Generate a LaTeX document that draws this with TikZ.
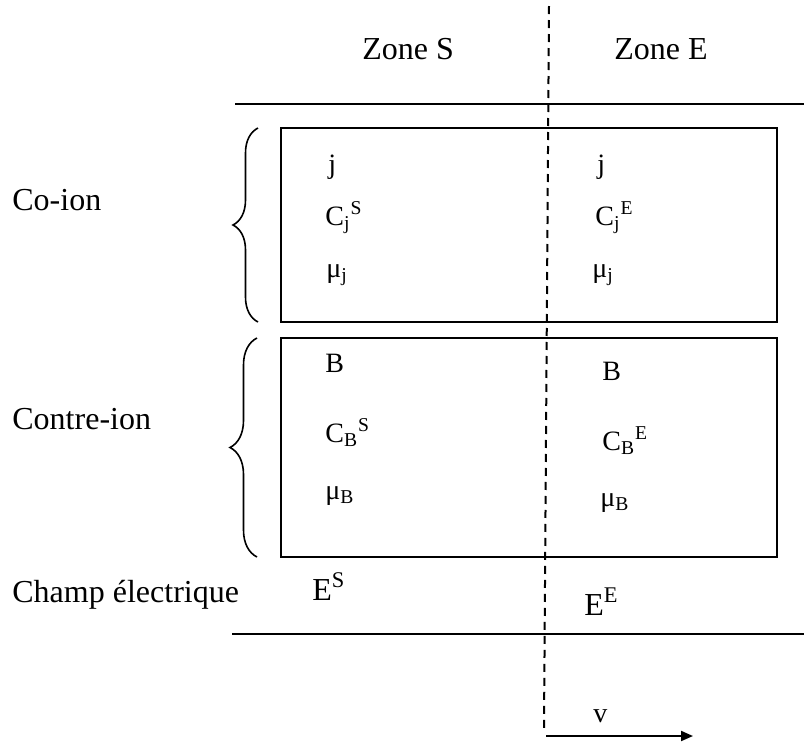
\documentclass[tikz,border=0pt]{standalone}
\usepackage{fontspec}
\setmainfont{Liberation Serif}
\usepackage{tikz}
\usetikzlibrary{arrows.meta, decorations.pathreplacing}

\begin{document}
\begin{tikzpicture}[
    x=0.5pt, y=-0.5pt,
    trait/.style={line width=1pt},
    cadre/.style={draw, line width=1pt},
    accolade/.style={decorate, decoration={brace, amplitude=#1}, line width=0.8pt},
    separation/.style={line width=1pt, dash pattern=on 4pt off 3pt},
    etiquette/.style={anchor=base west, inner sep=0pt, font=\fontsize{16}{19}\selectfont},
    espece/.style={anchor=base west, inner sep=0pt, font=\fontsize{14}{17}\selectfont},
    fleche/.style={-{Triangle[length=6pt, width=5pt]}, line width=1pt}
  ]
    \useasboundingbox (0,0) rectangle (804,745);

    % Points de construction
    \coordinate (sepHaut) at (549,6);
    \coordinate (sepBas)  at (544,728);
    \coordinate (ligneHG) at (235,104);
    \coordinate (ligneHD) at (804,104);
    \coordinate (ligneBG) at (232,634);
    \coordinate (ligneBD) at (804,634);
    \coordinate (coionHG) at (281,128);
    \coordinate (coionBD) at (777,322);
    \coordinate (contreHG) at (281,338);
    \coordinate (contreBD) at (777,557);
    \coordinate (accUnBas)  at (258,322);
    \coordinate (accUnHaut) at (258,128);
    \coordinate (accDeuxBas)  at (257,557);
    \coordinate (accDeuxHaut) at (257,338);
    \coordinate (vDebut) at (546,736);
    \coordinate (vFin)   at (693,736);

    % Traits et cadres
    \draw[trait] (ligneHG) -- (ligneHD);
    \draw[trait] (ligneBG) -- (ligneBD);
    \draw[cadre] (coionHG) rectangle (coionBD);
    \draw[cadre] (contreHG) rectangle (contreBD);
    \draw[separation] (sepHaut) -- (sepBas);

    % Accolades
    \draw[accolade=12.5pt] (accUnBas) -- (accUnHaut);
    \draw[accolade=13.5pt] (accDeuxBas) -- (accDeuxHaut);

    % Titres des zones
    \node[etiquette] (zoneS) at (362,59) {Zone S};
    \node[etiquette] (zoneE) at (614,59) {Zone E};

    % Libelles a gauche
    \node[etiquette] (coion)  at (12,210) {Co-ion};
    \node[etiquette] (contre) at (12,429) {Contre-ion};
    \node[etiquette] (champ)  at (12,602) {Champ électrique};

    % Co-ion
    \node[espece] (jS)   at (328,173) {j};
    \node[espece] (cjS)  at (325,225) {C\textsubscript{j}\textsuperscript{S}};
    \node[espece] (mujS) at (326,277) {μ\textsubscript{j}};
    \node[espece] (jE)   at (597,173) {j};
    \node[espece] (cjE)  at (595,225) {C\textsubscript{j}\textsuperscript{E}};
    \node[espece] (mujE) at (592,277) {μ\textsubscript{j}};

    % Contre-ion
    \node[espece] (bS)   at (325,372) {B};
    \node[espece] (cbS)  at (325,442) {C\textsubscript{B}\textsuperscript{S}};
    \node[espece] (mubS) at (325,499) {μ\textsubscript{B}};
    \node[espece] (bE)   at (602,380) {B};
    \node[espece] (cbE)  at (602,450) {C\textsubscript{B}\textsuperscript{E}};
    \node[espece] (mubE) at (600,506) {μ\textsubscript{B}};

    % Champ electrique
    \node[etiquette] (eS) at (312,600) {E\textsuperscript{S}};
    \node[etiquette] (eE) at (584,615) {E\textsuperscript{E}};

    % Vitesse
    \draw[fleche] (vDebut) -- (vFin);
    \node[espece] (vitesse) at (593,722) {v};
  \end{tikzpicture}
\end{document}
